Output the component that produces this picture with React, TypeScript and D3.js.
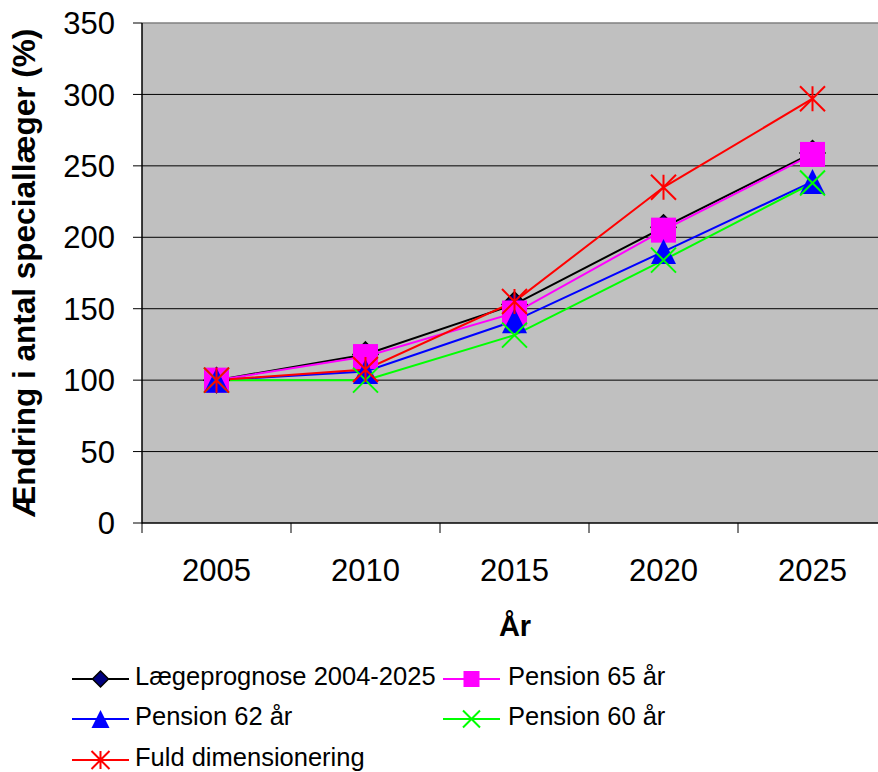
import React from "react";
import * as d3 from "d3";

const years = ["2005", "2010", "2015", "2020", "2025"];
const laegeprognose = [100, 118, 153, 207, 259];
const pension65 = [100, 116.5, 147, 205, 258];
const pension62 = [100, 106, 141.5, 190, 239];
const pension60 = [100, 100, 131.5, 184, 238];
const fuldDim = [100, 107.5, 155, 235, 297];
const yTicks = [0, 50, 100, 150, 200, 250, 300, 350];

const seriesNames = [
  "Lægeprognose 2004-2025",
  "Pension 65 år",
  "Pension 62 år",
  "Pension 60 år",
  "Fuld dimensionering",
];
const seriesValues = [laegeprognose, pension65, pension62, pension60, fuldDim];
const seriesColors = ["#000000", "#FF00FF", "#0000FF", "#00FF00", "#FF0000"];
const seriesMarkers = ["diamond", "square", "triangle", "x", "star"];

const FONT = "Arial, 'Liberation Sans', Helvetica, sans-serif";

function Marker({ type, cx, cy, s, color }: { type: string; cx: number; cy: number; s: number; color: string }) {
  const h = s / 2;
  if (type === "diamond") {
    return (
      <path
        d={`M${cx},${cy - h}L${cx + h},${cy}L${cx},${cy + h}L${cx - h},${cy}Z`}
        fill="#000080"
        stroke="#000000"
        strokeWidth={1.5}
      />
    );
  }
  if (type === "square") {
    return <rect x={cx - h} y={cy - h} width={s} height={s} fill={color} />;
  }
  if (type === "triangle") {
    return <path d={`M${cx},${cy - h}L${cx + h},${cy + h}L${cx - h},${cy + h}Z`} fill={color} />;
  }
  if (type === "x") {
    return (
      <path
        d={`M${cx - h},${cy - h}L${cx + h},${cy + h}M${cx + h},${cy - h}L${cx - h},${cy + h}`}
        stroke={color}
        strokeWidth={2}
        fill="none"
      />
    );
  }
  return (
    <path
      d={`M${cx - h},${cy - h}L${cx + h},${cy + h}M${cx + h},${cy - h}L${cx - h},${cy + h}M${cx},${cy - h}L${cx},${cy + h}`}
      stroke={color}
      strokeWidth={2}
      fill="none"
    />
  );
}

export default function App() {
  const W = 878;
  const H = 772;
  const left = 142;
  const top = 23;
  const bottom = 523;
  const band = 149;
  const x = d3.scaleBand<string>().domain(years).range([left, left + band * years.length]).padding(0);
  const y = d3.scaleLinear().domain([0, 350]).range([bottom, top]);
  const cx = (yr: string) => (x(yr) as number) + x.bandwidth() / 2;
  const line = d3
    .line<number>()
    .x((_, i) => cx(years[i]))
    .y((d) => y(d));
  const plotRight = left + band * years.length;
  const boundaries = d3.range(years.length + 1).map((i) => left + i * x.bandwidth());

  const legendItems = [
    { i: 0, lx: 72, tx: 135, cy: 679 },
    { i: 1, lx: 443, tx: 508, cy: 679 },
    { i: 2, lx: 72, tx: 135, cy: 719 },
    { i: 3, lx: 443, tx: 508, cy: 719 },
    { i: 4, lx: 72, tx: 135, cy: 760 },
  ];
  const legendMarkerSize = [16, 16, 18, 17, 18];

  return (
    <svg
      width={W}
      height={H}
      style={{ position: "absolute", left: 0, top: 0, background: "#fff" }}
      fontFamily={FONT}
    >
      <rect x={0} y={0} width={W} height={H} fill="#ffffff" />
      <rect x={left} y={top} width={plotRight - left} height={bottom - top} fill="#C0C0C0" />
      <line x1={left} x2={plotRight} y1={top} y2={top} stroke="#808080" strokeWidth={1.5} />
      {yTicks.map((t) => (
        <g key={t}>
          {t > 0 && t < 350 && (
            <line x1={left} x2={plotRight} y1={y(t)} y2={y(t)} stroke="#000" strokeWidth={1} />
          )}
          <line x1={133} x2={left} y1={y(t)} y2={y(t)} stroke="#000" strokeWidth={1} />
          <text x={115} y={y(t)} dy="0.36em" textAnchor="end" fontSize={31} fill="#000">
            {t}
          </text>
        </g>
      ))}
      <line x1={left} x2={left} y1={top} y2={bottom + 0.5} stroke="#000" strokeWidth={1.5} />
      <line x1={left} x2={plotRight} y1={bottom} y2={bottom} stroke="#000" strokeWidth={1.5} />
      {boundaries.map((b, i) => (
        <line key={i} x1={b} x2={b} y1={bottom} y2={bottom + 10} stroke="#000" strokeWidth={1} />
      ))}
      {years.map((yr) => (
        <text key={yr} x={cx(yr)} y={581} textAnchor="middle" fontSize={31} fill="#000">
          {yr}
        </text>
      ))}
      <text x={515} y={636} textAnchor="middle" fontSize={29} fontWeight="bold" fill="#000">
        År
      </text>
      <text
        transform={`translate(35,${(top + bottom) / 2}) rotate(-90)`}
        textAnchor="middle"
        fontSize={31.5}
        fontWeight="bold"
        fill="#000"
      >
        Ændring i antal speciallæger (%)
      </text>

      {seriesValues.map((vals, si) => (
        <path key={si} d={line(vals) || ""} fill="none" stroke={seriesColors[si]} strokeWidth={2} />
      ))}
      {seriesValues.map((vals, si) => (
        <g key={si}>
          {vals.map((v, i) => (
            <Marker key={i} type={seriesMarkers[si]} cx={cx(years[i])} cy={y(v)} s={25} color={seriesColors[si]} />
          ))}
        </g>
      ))}

      {legendItems.map(({ i, lx, tx, cy }) => (
        <g key={i}>
          <line x1={lx} x2={lx + 57} y1={cy} y2={cy} stroke={seriesColors[i]} strokeWidth={2} />
          <Marker type={seriesMarkers[i]} cx={lx + 28.5} cy={cy} s={legendMarkerSize[i]} color={seriesColors[i]} />
          <text x={tx} y={cy + 6} fontSize={25.5} fill="#000">
            {seriesNames[i]}
          </text>
        </g>
      ))}
    </svg>
  );
}
